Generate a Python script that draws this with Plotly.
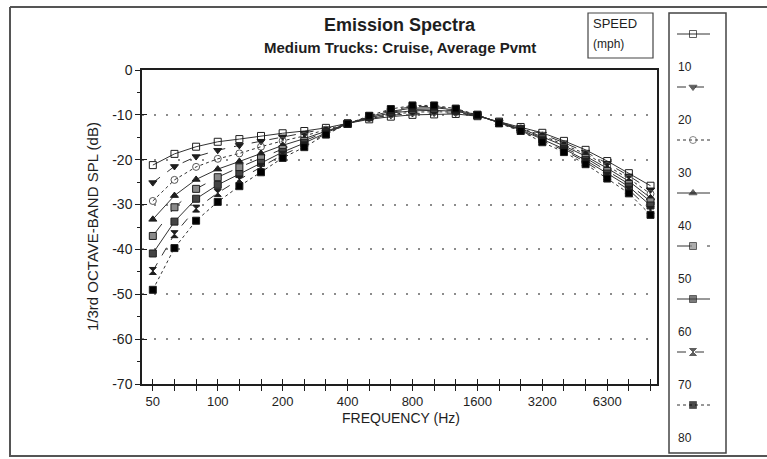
import plotly.graph_objects as go

W, H = 767, 459

# 1/3-octave band centre frequencies (Hz)
bands_hz = [50, 63, 80, 100, 125, 160, 200, 250, 315, 400, 500, 630,
            800, 1000, 1250, 1600, 2000, 2500, 3150, 4000, 5000, 6300, 8000, 10000]
# labelled bands: index -> label
tick_labels = {0: "50", 3: "100", 6: "200", 9: "400", 12: "800",
               15: "1600", 18: "3200", 21: "6300"}
y_ticks = [0, -10, -20, -30, -40, -50, -60, -70]
speeds = [10, 20, 30, 40, 50, 60, 70, 80]

# normalised 1/3-octave band SPL (dB) per cruise speed (mph)
spl_10 = [-21.2, -18.7, -17.1, -16.0, -15.4, -14.7, -14.1, -13.6, -12.9, -11.9, -11.0, -10.4,
          -10.0, -9.9, -9.8, -10.3, -11.5, -12.7, -14.0, -15.8, -17.8, -20.3, -23.0, -25.8]
spl_20 = [-25.1, -21.5, -19.3, -17.9, -16.8, -15.9, -14.9, -14.1, -13.1, -11.9, -10.8, -10.1,
          -9.7, -9.6, -9.6, -10.2, -11.6, -12.8, -14.3, -16.2, -18.3, -20.8, -23.6, -26.7]
spl_30 = [-29.2, -24.5, -21.6, -19.8, -18.6, -17.1, -15.8, -14.7, -13.3, -12.0, -10.7, -9.9,
          -9.4, -9.3, -9.4, -10.2, -11.6, -13.0, -14.6, -16.6, -18.7, -21.4, -24.2, -27.6]
spl_40 = [-33.3, -28.0, -24.4, -22.1, -20.4, -18.6, -16.8, -15.3, -13.6, -12.0, -10.6, -9.6,
          -9.1, -9.0, -9.2, -10.1, -11.7, -13.1, -14.9, -16.9, -19.2, -21.9, -24.8, -28.5]
spl_50 = [-37.0, -30.6, -26.5, -23.9, -21.7, -19.7, -17.6, -15.8, -13.8, -12.0, -10.5, -9.4,
          -8.8, -8.7, -9.1, -10.1, -11.7, -13.2, -15.2, -17.3, -19.6, -22.5, -25.4, -29.3]
spl_60 = [-40.9, -33.8, -28.7, -25.6, -23.2, -20.7, -18.3, -16.3, -14.0, -12.0, -10.4, -9.2,
          -8.5, -8.4, -8.9, -10.0, -11.8, -13.3, -15.5, -17.6, -20.1, -23.1, -26.0, -30.2]
spl_70 = [-44.8, -36.6, -30.9, -27.4, -24.4, -21.6, -18.9, -16.8, -14.2, -12.0, -10.3, -8.9,
          -8.2, -8.1, -8.8, -10.0, -11.8, -13.5, -15.8, -17.9, -20.5, -23.6, -26.7, -31.2]
spl_80 = [-49.0, -39.7, -33.6, -29.4, -25.9, -22.8, -19.6, -17.2, -14.4, -12.0, -10.2, -8.7,
          -7.9, -7.9, -8.6, -10.0, -11.9, -13.6, -16.1, -18.3, -21.0, -24.2, -27.5, -32.3]

series = [spl_10, spl_20, spl_30, spl_40, spl_50, spl_60, spl_70, spl_80]

LINE = "#333333"
INK = "#1e1e1e"
FONT = "Liberation Sans, Arial, sans-serif"

styles = [
    dict(symbol="square-open", color=INK, dash="solid"),
    dict(symbol="triangle-down", color=INK, dash="dash"),
    dict(symbol="circle-open", color="#555555", dash="dot"),
    dict(symbol="triangle-up", color=INK, dash="solid"),
    dict(symbol="square", color="#8a8a8a", dash="longdash"),
    dict(symbol="square", color="#444444", dash="solid"),
    dict(symbol="hourglass", color=INK, dash="dash"),
    dict(symbol="square", color="#000000", dash="dot"),
]


def fx(x):
    return x / W


def fy(y):
    return 1 - y / H


x_idx = list(range(len(bands_hz)))
ticktext = [tick_labels.get(i, "") for i in x_idx]

fig = go.Figure()

for spd, vals, st in zip(speeds, series, styles):
    fig.add_trace(go.Scatter(
        x=x_idx, y=vals, mode="lines+markers", name=f"{spd} mph",
        line=dict(color=LINE, width=1, dash=st["dash"]),
        marker=dict(symbol=st["symbol"], size=7, color=st["color"],
                    line=dict(color=INK, width=1)),
        showlegend=False, xaxis="x", yaxis="y",
    ))

# carrier for the inward tick axes
fig.add_trace(go.Scatter(x=[None], y=[None], xaxis="x2", yaxis="y2",
                         showlegend=False, hoverinfo="skip"))

# speed key, drawn on a full-page pixel grid (x3/y3)
key_y0, key_step = 34, 53
for i, (spd, st) in enumerate(zip(speeds, styles)):
    yy = key_y0 + key_step * i
    fig.add_trace(go.Scatter(
        x=[677, 693, 710], y=[yy, yy, yy], mode="lines+markers",
        line=dict(color=LINE, width=1, dash=st["dash"]),
        marker=dict(symbol=st["symbol"], size=[0, 7, 0], color=st["color"],
                    line=dict(color=INK, width=1)),
        showlegend=False, hoverinfo="skip", xaxis="x3", yaxis="y3",
    ))
    fig.add_annotation(x=676, y=yy + 33, xref="x3", yref="y3", text=str(spd),
                       showarrow=False, xanchor="left", yanchor="middle",
                       font=dict(family=FONT, size=12, color=INK))

x_dom = [fx(142), fx(657)]
y_dom = [fy(384), fy(70)]
x_rng = [-0.5, 23.3]

fig.update_layout(
    width=W, height=H,
    margin=dict(l=0, r=0, t=0, b=0, pad=0, autoexpand=False),
    paper_bgcolor="white", plot_bgcolor="rgba(0,0,0,0)",
    font=dict(family=FONT, color=INK),
    xaxis=dict(domain=x_dom, range=x_rng, tickmode="array", tickvals=x_idx,
               ticktext=ticktext, ticks="outside", ticklen=5, tickcolor=INK,
               tickwidth=1, showline=True, linecolor=INK, linewidth=1.5,
               mirror=True, showgrid=False, zeroline=False, automargin=False,
               tickfont=dict(size=13, color=INK), anchor="y"),
    yaxis=dict(domain=y_dom, range=[-70, 0], tickmode="array",
               tickvals=y_ticks, ticktext=[str(v) for v in y_ticks],
               ticks="outside", ticklen=5, automargin=False,
               tickcolor=INK, showline=True, linecolor=INK, linewidth=1.5,
               mirror=True, showgrid=True, gridcolor="#8c8c8c", gridwidth=1.5,
               griddash="2px,10px", zeroline=False,
               minor=dict(tickvals=list(range(-65, 0, 10)), ticks="outside",
                          ticklen=3, tickcolor=INK, showgrid=False),
               tickfont=dict(size=14, color=INK), anchor="x"),
    xaxis2=dict(overlaying="x", anchor="y", side="bottom", range=x_rng,
                tickmode="array", tickvals=x_idx, ticks="inside", ticklen=5,
                tickcolor=INK, showticklabels=False, showline=False,
                showgrid=False, zeroline=False, automargin=False),
    yaxis2=dict(overlaying="y", anchor="x", side="left", range=[-70, 0],
                tickmode="array", tickvals=y_ticks,
                ticks="inside", ticklen=5, tickcolor=INK,
                showticklabels=False, showline=False, showgrid=False,
                zeroline=False, automargin=False),
    xaxis3=dict(domain=[0, 1], range=[0, W], visible=False, anchor="y3",
                automargin=False),
    yaxis3=dict(domain=[0, 1], range=[H, 0], visible=False, anchor="x3",
                automargin=False),
)


def label(x, y, text, size, **kw):
    opts = dict(xanchor="center", yanchor="middle")
    opts.update(kw)
    fig.add_annotation(x=fx(x), y=fy(y), xref="paper", yref="paper", text=text,
                       showarrow=False, font=dict(size=size, family=FONT, color=INK),
                       **opts)


# titles and axis captions
label(400, 25, "<b>Emission Spectra</b>", 18)
label(400, 48, "<b>Medium Trucks: Cruise, Average Pvmt</b>", 15)
label(401, 418, "FREQUENCY (Hz)", 14)
label(92, 227, "1/3rd OCTAVE-BAND SPL (dB)", 15, textangle=-90)
label(591, 23, "SPEED", 13, xanchor="left")
label(591, 44, "(mph)", 12, xanchor="left")

# frames
box = dict(type="rect", xref="paper", yref="paper", layer="above")
fig.add_shape(**box, x0=fx(588), x1=fx(653), y0=fy(58), y1=fy(13),
              line=dict(color="#444444", width=1.2))
fig.add_shape(**box, x0=fx(669), x1=fx(726), y0=fy(453), y1=fy(13),
              line=dict(color="#444444", width=1.5))
for x0, y0, x1, y1 in [(10, 7, 767, 7), (10, 7, 10, 457), (10, 456, 767, 456)]:
    fig.add_shape(type="line", xref="paper", yref="paper",
                  x0=fx(x0), y0=fy(y0), x1=fx(x1), y1=fy(y1),
                  line=dict(color="#555555", width=2))

fig.write_html("out.html")
